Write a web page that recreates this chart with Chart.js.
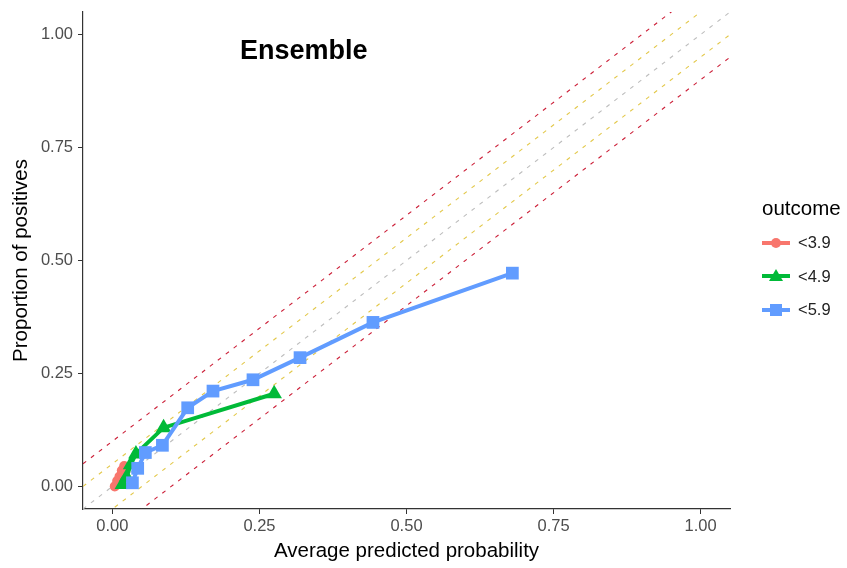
<!DOCTYPE html>
<html>
<head>
<meta charset="utf-8">
<script src="https://cdn.jsdelivr.net/npm/chart.js@4/dist/chart.umd.min.js"></script>
<style>
  body { margin: 0; background: #fff; font-family: "Liberation Sans", Arial, sans-serif; }
  #wrap { position: relative; width: 847px; height: 568px; }
  #title { position: absolute; left: 240px; top: 35px; font-size: 27px; font-weight: bold; color: #000; }
  #legend { position: absolute; left: 762px; top: 196px; }
  #legend .head { font-size: 20.5px; line-height: 24px; color: #000; margin-bottom: 6px; }
  #legend .item { display: flex; align-items: center; height: 33.5px; font-size: 16.5px; color: #222; }
  #legend svg { margin-right: 8px; }
</style>
</head>
<body>
<div id="wrap">
  <canvas id="calChart" width="847" height="568"></canvas>
  <div id="title">Ensemble</div>
  <div id="legend"></div>
</div>
<script>
const outcomes = ['<3.9', '<4.9', '<5.9'];
const colors = ['#F8766D', '#00BA38', '#619CFF'];
const shapes = ['circle', 'triangle', 'rect'];

// average predicted probability / proportion of positives per bin
const red_x = [0.004, 0.008, 0.012, 0.016, 0.020];
const red_y = [0.000, 0.012, 0.022, 0.035, 0.045];
const green_x = [0.017, 0.024, 0.031, 0.040, 0.087, 0.275];
const green_y = [0.004, 0.020, 0.048, 0.072, 0.130, 0.205];
const blue_x = [0.034, 0.043, 0.056, 0.085, 0.128, 0.171, 0.239, 0.319, 0.443, 0.680];
const blue_y = [0.008, 0.040, 0.075, 0.091, 0.174, 0.211, 0.236, 0.285, 0.363, 0.472];

// dashed reference lines y = x + offset
const refOffsets = [0.1, 0.05, 0, -0.05, -0.1];
const refColors = ['#CC1F38', '#E3C84A', '#BDBDBD', '#E3C84A', '#CC1F38'];
const tickVals = [0, 0.25, 0.5, 0.75, 1];

const toPts = (xs, ys) => xs.map((x, i) => ({ x: x, y: ys[i] }));
const seriesX = [red_x, green_x, blue_x];
const seriesY = [red_y, green_y, blue_y];

const refSets = refOffsets.map((off, i) => ({
    data: [{ x: -0.05, y: -0.05 + off }, { x: 1.05, y: 1.05 + off }],
    showLine: true, borderColor: refColors[i], borderWidth: 1.1, borderDash: [4, 6],
    pointRadius: 0, clip: 0, order: 10
}));

const radii = [5, 9, 9];
const mainSets = outcomes.map((name, i) => ({
    label: name,
    data: toPts(seriesX[i], seriesY[i]),
    showLine: true, borderColor: colors[i], backgroundColor: colors[i],
    borderWidth: 4, pointStyle: shapes[i], pointRadius: radii[i],
    pointBorderWidth: 0, order: 3 - i
}));

const tickFont = { family: 'Liberation Sans', size: 16.5 };
const titleFont = { family: 'Liberation Sans', size: 20.5 };

const axisCommon = {
    type: 'linear', min: -0.05, max: 1.05,
    border: { display: true, color: '#333', width: 1.2 },
    grid: { drawOnChartArea: false, drawTicks: true, tickLength: 5, color: '#333' },
    afterBuildTicks: s => { s.ticks = tickVals.map(v => ({ value: v })); }
};

const ctx = document.getElementById('calChart').getContext('2d');
new Chart(ctx, {
    type: 'scatter',
    data: { datasets: [...refSets, ...mainSets] },
    options: {
        responsive: false, animation: false,
        layout: { padding: { left: 0, right: 117, top: 12, bottom: 0 } },
        plugins: { legend: { display: false }, tooltip: { enabled: false } },
        scales: {
            x: { ...axisCommon,
                ticks: { color: '#4D4D4D', font: tickFont, padding: 3, callback: v => v.toFixed(2) },
                title: { display: true, text: 'Average predicted probability', color: '#000',
                         font: titleFont, padding: { top: 5 } },
                afterFit: s => { s.height = 59; s.paddingLeft = 0; s.paddingRight = 0; }
            },
            y: { ...axisCommon,
                ticks: { color: '#4D4D4D', font: tickFont, padding: 5, callback: v => v.toFixed(2) },
                title: { display: true, text: 'Proportion of positives', color: '#000',
                         font: titleFont, padding: { top: 9 } },
                afterFit: s => { s.width = 83; s.paddingTop = 0; s.paddingBottom = 0; }
            }
        }
    }
});

// legend (line + marker key like ggplot)
const legend = document.getElementById('legend');
let html = '<div class="head">outcome</div>';
outcomes.forEach((name, i) => {
    let mark = '';
    if (shapes[i] === 'circle') mark = `<circle cx="14" cy="8" r="5" fill="${colors[i]}"/>`;
    if (shapes[i] === 'triangle') mark = `<polygon points="14,1 21,13 7,13" fill="${colors[i]}"/>`;
    if (shapes[i] === 'rect') mark = `<rect x="8" y="2" width="12" height="12" fill="${colors[i]}"/>`;
    html += `<div class="item"><svg width="28" height="16"><line x1="0" y1="8" x2="28" y2="8" stroke="${colors[i]}" stroke-width="4"/>${mark}</svg>${name}</div>`;
});
legend.innerHTML = html;
</script>
</body>
</html>
